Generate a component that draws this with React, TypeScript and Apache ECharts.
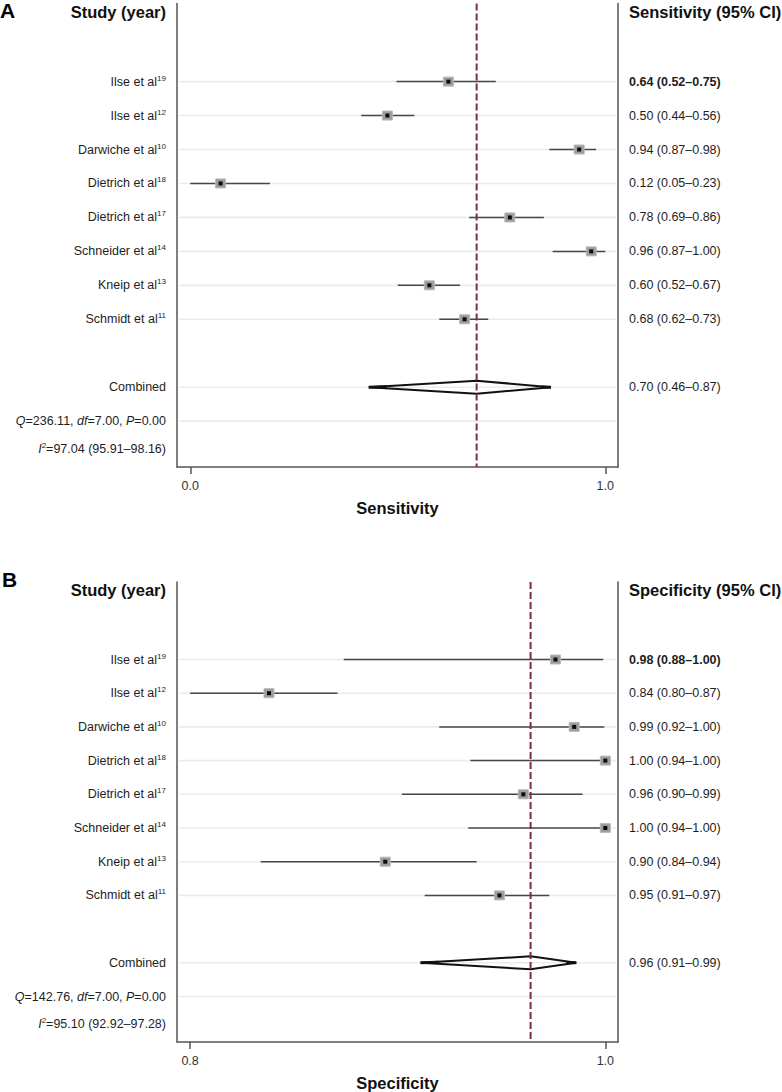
import React, { useEffect, useRef } from "react";
import * as echarts from "echarts";

const FONT = "'Liberation Sans', Arial, Helvetica, sans-serif";

// ---- data ----
const studyNames = ["Ilse et al", "Ilse et al", "Darwiche et al", "Dietrich et al", "Dietrich et al", "Schneider et al", "Kneip et al", "Schmidt et al"];
const studyRefs = ["19", "12", "10", "18", "17", "14", "13", "11"];
const studyRows = [0, 1, 2, 3, 4, 5, 6, 7];
const gridRows = [0, 1, 2, 3, 4, 5, 6, 7, 9, 10];
const combinedRow = 9;
const qRow = 10;
const i2Row = 10.82;
const headerRow = -2.05;

// Panel A: sensitivity (positions)
const sensPoint = [0.622, 0.475, 0.937, 0.073, 0.77, 0.966, 0.576, 0.661];
const sensLow = [0.497, 0.412, 0.865, 0.0, 0.672, 0.873, 0.5, 0.6];
const sensHigh = [0.736, 0.54, 0.978, 0.192, 0.852, 1.0, 0.65, 0.718];
const sensCombined = [0.43, 0.69, 0.869]; // low, estimate, high
const sensLabels = ["0.64 (0.52–0.75)", "0.50 (0.44–0.56)", "0.94 (0.87–0.98)", "0.12 (0.05–0.23)", "0.78 (0.69–0.86)", "0.96 (0.87–1.00)", "0.60 (0.52–0.67)", "0.68 (0.62–0.73)"];
const sensCombinedLabel = "0.70 (0.46–0.87)";
const sensStats = ["236.11", "7.00", "0.00"]; // Q, df, P
const sensI2 = "97.04 (95.91–98.16)";
const sensTicks = [0, 1];

// Panel B: specificity
const specPoint = [0.976, 0.838, 0.985, 1.0, 0.9605, 1.0, 0.894, 0.949];
const specLow = [0.874, 0.8, 0.92, 0.935, 0.902, 0.934, 0.834, 0.913];
const specHigh = [0.999, 0.871, 0.9995, 1.0, 0.989, 1.0, 0.938, 0.973];
const specCombined = [0.911, 0.964, 0.986];
const specLabels = ["0.98 (0.88–1.00)", "0.84 (0.80–0.87)", "0.99 (0.92–1.00)", "1.00 (0.94–1.00)", "0.96 (0.90–0.99)", "1.00 (0.94–1.00)", "0.90 (0.84–0.94)", "0.95 (0.91–0.97)"];
const specCombinedLabel = "0.96 (0.91–0.99)";
const specStats = ["142.76", "7.00", "0.00"];
const specI2 = "95.10 (92.92–97.28)";
const specTicks = [0.8, 1.0];

// ---- styles ----
const TXT = "#1e1e1e";
const FS = 12.5;
const rich = {
  m: { fontSize: FS, fontFamily: FONT, fill: TXT, lineHeight: 15 },
  b: { fontSize: FS, fontFamily: FONT, fill: TXT, fontWeight: "bold", lineHeight: 15 },
  i: { fontSize: FS, fontFamily: FONT, fill: TXT, fontStyle: "italic", lineHeight: 15 },
  s: { fontSize: 8, fontFamily: FONT, fill: TXT, lineHeight: 9, verticalAlign: "top" },
  h: { fontSize: 16.5, fontFamily: FONT, fill: "#111", fontWeight: "bold", lineHeight: 18 },
};

type LabelRow = { row: number; left: string; right: string };

function buildLabels(header: string, labels: string[], combinedLabel: string, stats: string[], i2: string): LabelRow[] {
  const rows: LabelRow[] = [];
  rows.push({ row: headerRow, left: "{h|Study (year)}", right: `{h|${header}}` });
  studyRows.forEach((r, i) => {
    rows.push({
      row: r,
      left: `{m|${studyNames[i]}}{s|${studyRefs[i]}}`,
      right: i === 0 ? `{b|${labels[i]}}` : `{m|${labels[i]}}`,
    });
  });
  rows.push({ row: combinedRow, left: "{m|Combined}", right: `{m|${combinedLabel}}` });
  rows.push({ row: qRow, left: `{i|Q}{m|=${stats[0]}, }{i|df}{m|=${stats[1]}, }{i|P}{m|=${stats[2]}}`, right: "" });
  rows.push({ row: i2Row, left: `{i|I}{s|2}{m|=${i2}}`, right: "" });
  return rows;
}

function panelSeries(
  gi: number,
  low: number[],
  point: number[],
  high: number[],
  combined: number[],
  labels: LabelRow[]
) {
  const xi = gi;
  const yi = gi * 2;
  return [
    {
      type: "custom",
      xAxisIndex: xi,
      yAxisIndex: yi,
      z: 1,
      silent: true,
      data: gridRows.map((r) => [combined[1], r]),
      encode: { x: 0, y: 1 },
      renderItem: (params: any, api: any) => {
        const cs = params.coordSys;
        const y = api.coord([api.value(0), api.value(1)])[1];
        return {
          type: "line",
          shape: { x1: cs.x + 2, y1: y, x2: cs.x + cs.width - 2, y2: y },
          style: { stroke: "#e8eced", lineWidth: 1.6 },
        };
      },
    },
    {
      type: "custom",
      xAxisIndex: xi,
      yAxisIndex: yi,
      z: 2,
      silent: true,
      data: low.map((l, i) => [l, point[i], high[i], studyRows[i]]),
      encode: { x: [0, 1, 2], y: 3 },
      renderItem: (params: any, api: any) => {
        const r = api.value(3);
        const lo = api.coord([api.value(0), r]);
        const mid = api.coord([api.value(1), r]);
        const hi = api.coord([api.value(2), r]);
        return {
          type: "group",
          children: [
            { type: "line", shape: { x1: lo[0], y1: lo[1], x2: hi[0], y2: hi[1] }, style: { stroke: "#474747", lineWidth: 1.5 } },
            { type: "rect", shape: { x: mid[0] - 5, y: mid[1] - 4.5, width: 10, height: 9 }, style: { fill: "#9c9c9c", stroke: "#b9b9b9", lineWidth: 1 } },
            { type: "rect", shape: { x: mid[0] - 2, y: mid[1] - 2, width: 4, height: 4 }, style: { fill: "#0d0d0d" } },
          ],
        };
      },
    },
    {
      type: "custom",
      xAxisIndex: xi,
      yAxisIndex: yi,
      z: 3,
      silent: true,
      data: [[combined[0], combined[1], combined[2], combinedRow]],
      encode: { x: [0, 1, 2], y: 3 },
      renderItem: (params: any, api: any) => {
        const cs = params.coordSys;
        const r = api.value(3);
        const lo = api.coord([api.value(0), r]);
        const mid = api.coord([api.value(1), r]);
        const hi = api.coord([api.value(2), r]);
        const h = 6.5;
        return {
          type: "group",
          children: [
            {
              type: "polygon",
              shape: { points: [[lo[0], lo[1]], [mid[0], mid[1] - h], [hi[0], hi[1]], [mid[0], mid[1] + h]] },
              style: { fill: "none", stroke: "#111", lineWidth: 2 },
            },
            { type: "line", shape: { x1: lo[0], y1: lo[1], x2: lo[0] + 18, y2: lo[1] - 0.5 }, style: { stroke: "#111", lineWidth: 3 } },
            { type: "line", shape: { x1: hi[0], y1: hi[1], x2: hi[0] - 10, y2: hi[1] - 0.3 }, style: { stroke: "#111", lineWidth: 3 } },
            {
              type: "line",
              z2: 10,
              shape: { x1: mid[0], y1: cs.y, x2: mid[0], y2: cs.y + cs.height },
              style: { stroke: "#7e2b52", lineWidth: 2, lineDash: [7, 3] },
            },
          ],
        };
      },
    },
    {
      type: "custom",
      xAxisIndex: xi,
      yAxisIndex: yi,
      z: 6,
      silent: true,
      data: labels.map((l) => [combined[1], l.row]),
      encode: { x: 0, y: 1 },
      renderItem: (params: any, api: any) => {
        const cs = params.coordSys;
        const y = api.coord([api.value(0), api.value(1)])[1];
        const lab = labels[params.dataIndex];
        const children: any[] = [
          {
            type: "text",
            x: cs.x - 11,
            y,
            style: { text: lab.left, rich, align: "right", verticalAlign: "middle", fill: TXT, fontSize: FS, fontFamily: FONT },
          },
        ];
        if (lab.right) {
          children.push({
            type: "text",
            x: cs.x + cs.width + 11,
            y,
            style: { text: lab.right, rich, align: "left", verticalAlign: "middle", fill: TXT, fontSize: FS, fontFamily: FONT },
          });
        }
        return { type: "group", children };
      },
    },
  ];
}

function xAxisDef(gi: number, min: number, max: number, ticks: number[], name: string) {
  return {
    gridIndex: gi,
    type: "value",
    min,
    max,
    axisLine: { show: true, onZero: false, lineStyle: { color: "#555", width: 1.5 } },
    axisTick: { show: true, customValues: ticks, length: 7, lineStyle: { color: "#555", width: 1.5 } },
    axisLabel: {
      show: true,
      customValues: ticks,
      formatter: (v: number) => v.toFixed(1),
      fontSize: 12.5,
      color: "#333",
      margin: 12,
      fontFamily: FONT,
    },
    splitLine: { show: false },
    name,
    nameLocation: "middle",
    nameGap: 32,
    nameTextStyle: { fontSize: 16.5, fontWeight: "bold", color: "#111", fontFamily: FONT },
  };
}

function yAxisDef(gi: number, position: "left" | "right") {
  return {
    gridIndex: gi,
    type: "value",
    position,
    min: -2.3,
    max: 11.35,
    inverse: true,
    axisLine: { show: true, onZero: false, lineStyle: { color: "#555", width: 1.5 } },
    axisTick: { show: false },
    axisLabel: { show: false },
    splitLine: { show: false },
  };
}

export default function App() {
  const ref = useRef<HTMLDivElement>(null);
  useEffect(() => {
    if (!ref.current) return;
    const chart = echarts.init(ref.current, null, { renderer: "svg" });
    const labelsA = buildLabels("Sensitivity (95% CI)", sensLabels, sensCombinedLabel, sensStats, sensI2);
    const labelsB = buildLabels("Specificity (95% CI)", specLabels, specCombinedLabel, specStats, specI2);
    chart.setOption({
      animation: false,
      backgroundColor: "#ffffff",
      textStyle: { fontFamily: FONT },
      title: [
        { text: "A", left: 0, top: 0, padding: 0, textStyle: { fontSize: 21, fontWeight: "bold", color: "#000", fontFamily: FONT } },
        { text: "B", left: 2, top: 569, padding: 0, textStyle: { fontSize: 21, fontWeight: "bold", color: "#000", fontFamily: FONT } },
      ],
      grid: [
        { left: 177, top: 3.5, width: 441, height: 463.5 },
        { left: 177, top: 582, width: 441, height: 465 },
      ],
      xAxis: [
        xAxisDef(0, -0.032, 1.0306, sensTicks, "Sensitivity"),
        xAxisDef(1, 0.7937, 1.0061, specTicks, "Specificity"),
      ],
      yAxis: [yAxisDef(0, "left"), yAxisDef(0, "right"), yAxisDef(1, "left"), yAxisDef(1, "right")],
      series: [
        ...panelSeries(0, sensLow, sensPoint, sensHigh, sensCombined, labelsA),
        ...panelSeries(1, specLow, specPoint, specHigh, specCombined, labelsB),
      ],
    });
    return () => chart.dispose();
  }, []);
  return (
    <div
      ref={ref}
      style={{ position: "fixed", left: 0, top: 0, width: 782, height: 1092, background: "#fff" }}
    />
  );
}
